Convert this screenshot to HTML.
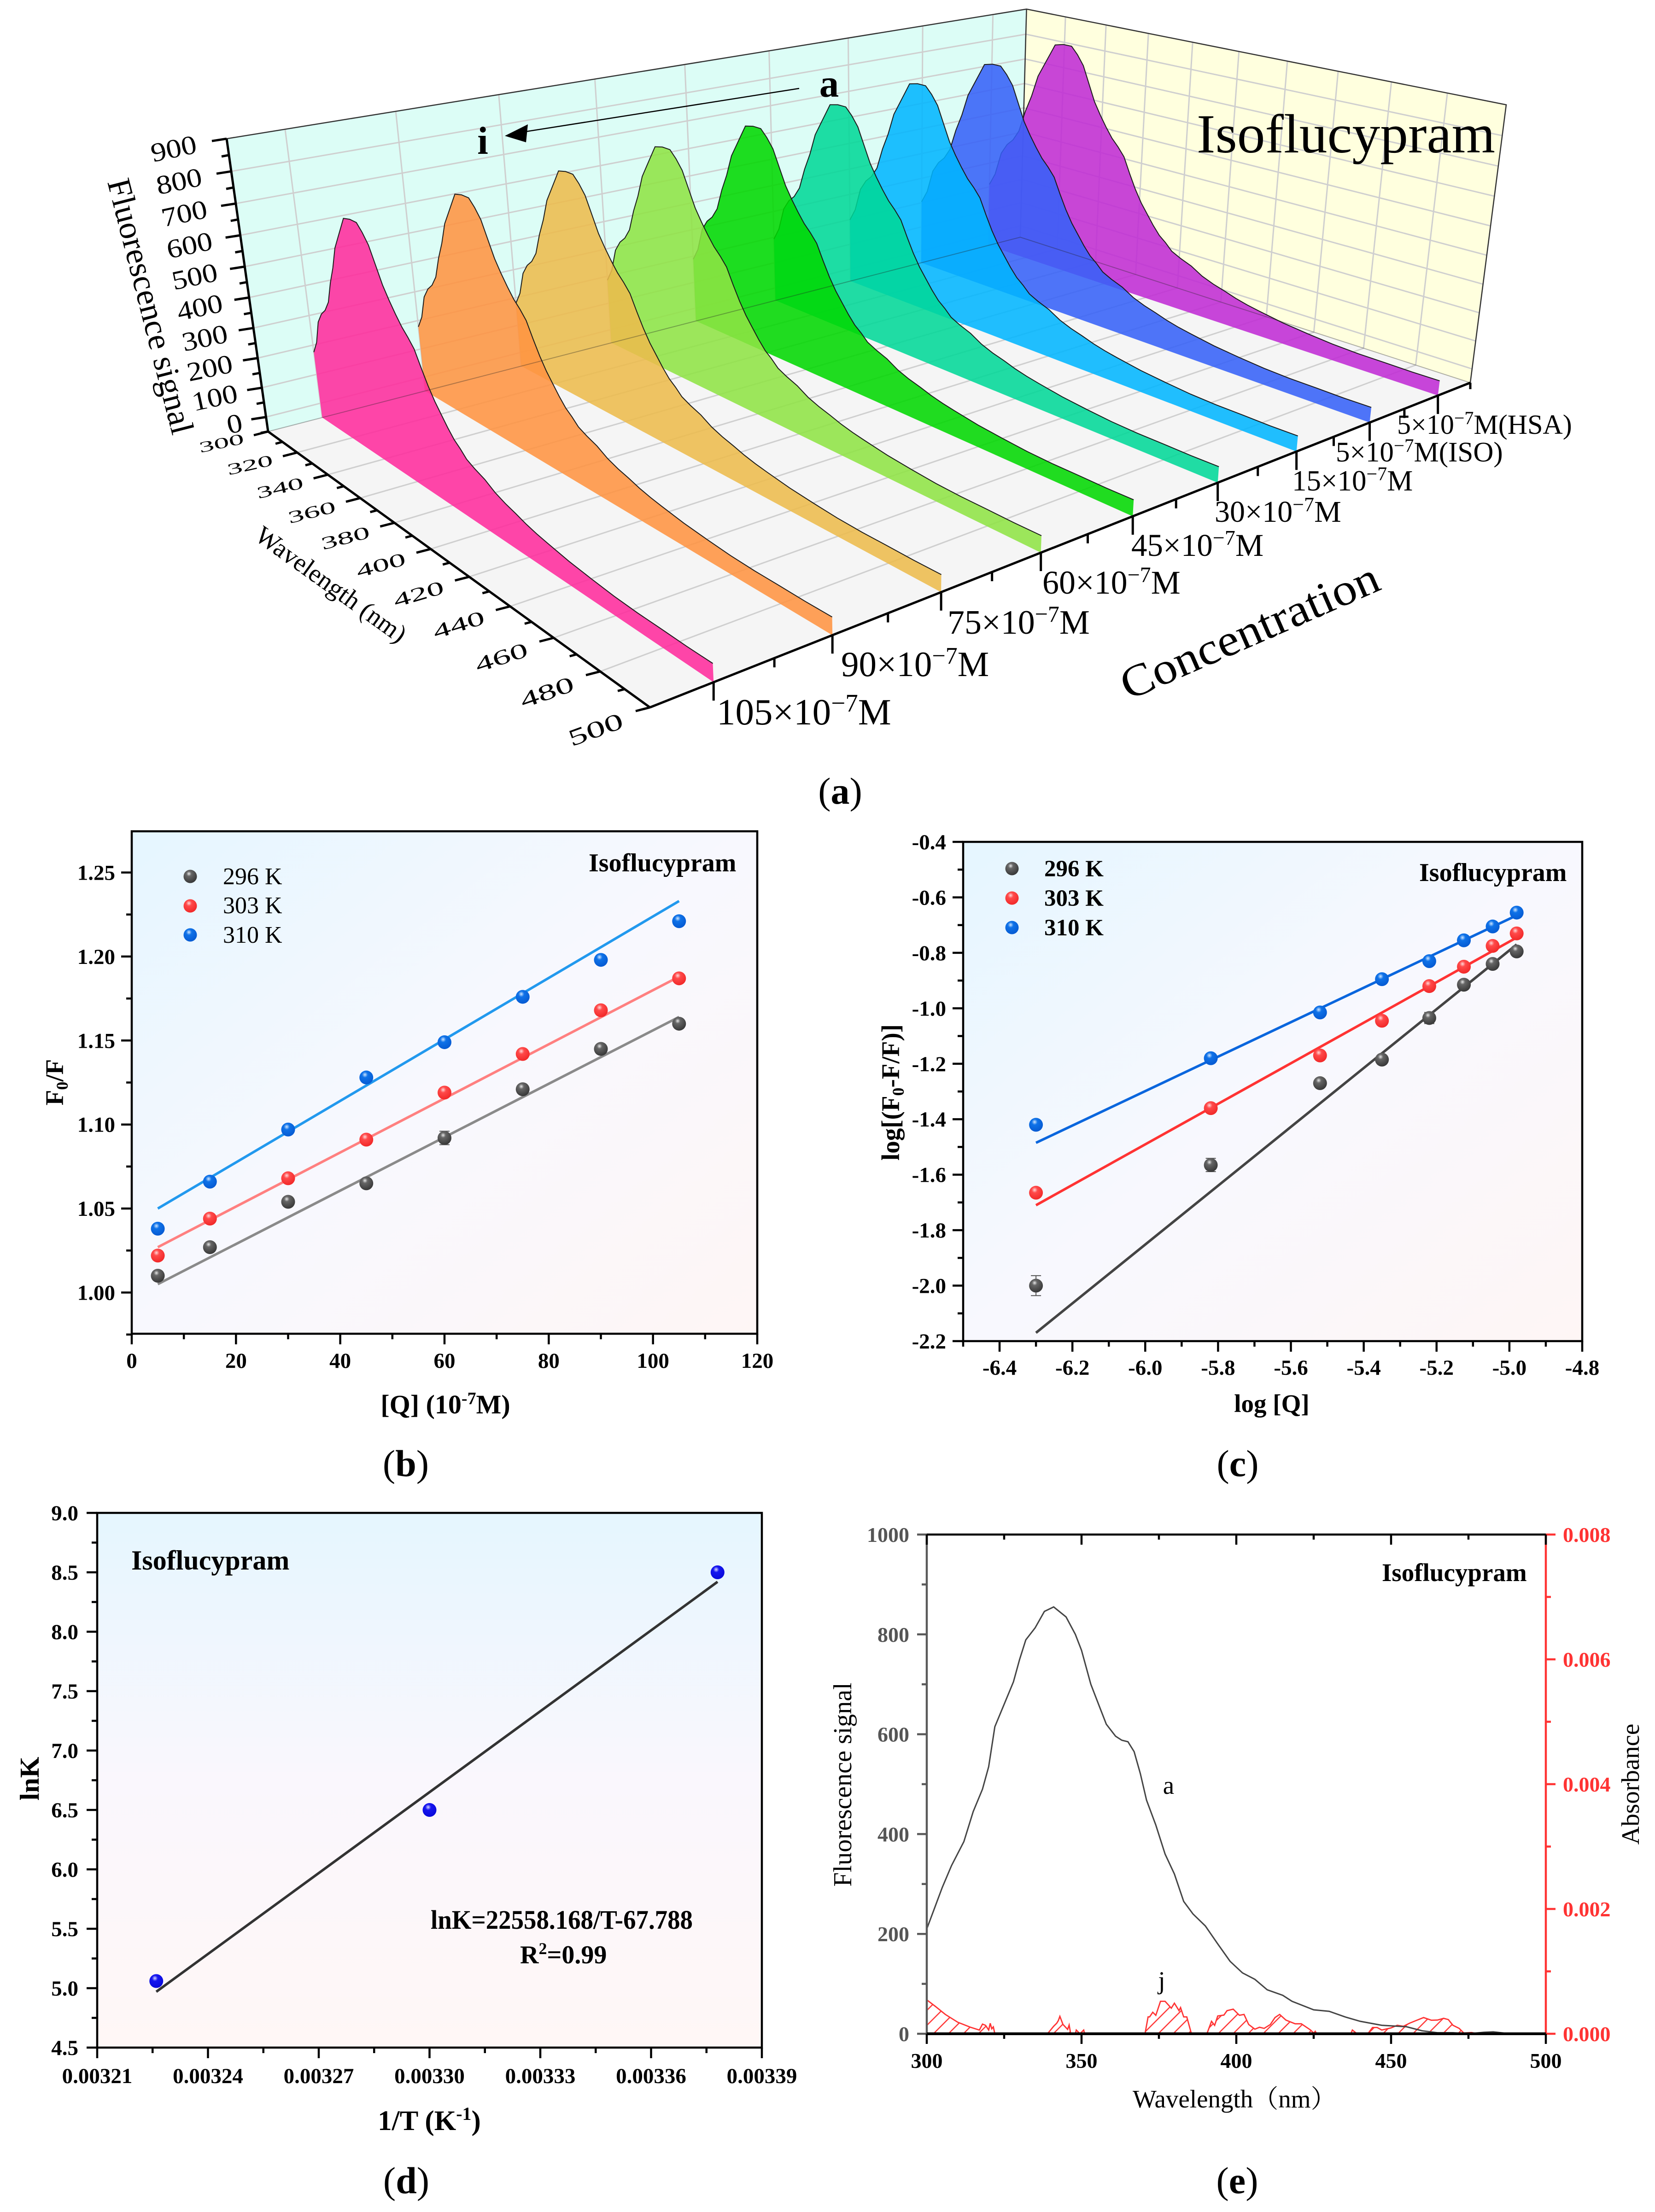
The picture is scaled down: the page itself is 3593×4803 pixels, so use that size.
<!DOCTYPE html>
<html lang="en">
<head>
<meta charset="utf-8">
<title>Isoflucypram fluorescence figure</title>
<style>
html,body{margin:0;padding:0;background:#fff;}
svg{display:block;}
text{font-family:"Liberation Serif","Noto Serif CJK SC",serif;fill:#000;}
.tick{font-weight:bold;font-size:47px;}
.axt{font-weight:bold;font-size:55px;}
.iso{font-weight:bold;font-size:56px;}
.cap{font-size:82px;}
</style>
</head>
<body>
<svg id="figure" xmlns="http://www.w3.org/2000/svg" width="3593" height="4803" viewBox="0 0 3593 4803">
<defs>
<linearGradient id="bgDiag" x1="0" y1="0" x2="1" y2="1">
<stop offset="0" stop-color="#e5f6ff"/><stop offset="0.5" stop-color="#f8f8fe"/><stop offset="1" stop-color="#fef6f5"/>
</linearGradient>
<linearGradient id="bgVert" x1="0" y1="0" x2="0" y2="1">
<stop offset="0" stop-color="#e5f6fe"/><stop offset="0.5" stop-color="#faf7fd"/><stop offset="1" stop-color="#fff7f6"/>
</linearGradient>
<radialGradient id="ballBlack" cx="0.4" cy="0.3" r="0.75"><stop offset="0" stop-color="#e8e8e8"/><stop offset="0.25" stop-color="#666"/><stop offset="1" stop-color="#333"/></radialGradient>
<radialGradient id="ballRed" cx="0.4" cy="0.3" r="0.75"><stop offset="0" stop-color="#ffd8d8"/><stop offset="0.28" stop-color="#ff4a4a"/><stop offset="1" stop-color="#f02525"/></radialGradient>
<radialGradient id="ballBlue" cx="0.4" cy="0.3" r="0.75"><stop offset="0" stop-color="#cfe6ff"/><stop offset="0.28" stop-color="#0f72e8"/><stop offset="1" stop-color="#0558d0"/></radialGradient>
<radialGradient id="ballNavy" cx="0.4" cy="0.3" r="0.75"><stop offset="0" stop-color="#d8d8ff"/><stop offset="0.28" stop-color="#1616f0"/><stop offset="1" stop-color="#0808d8"/></radialGradient>
<pattern id="hatch" width="23" height="23" patternUnits="userSpaceOnUse" patternTransform="rotate(-45)"><line x1="0" y1="1.5" x2="23" y2="1.5" stroke="#ff3333" stroke-width="2.4"/></pattern>
</defs>

<g id="panelA"></g>
<g id="panelALabels">
<text x="2598" y="331" font-size="120" textLength="648" lengthAdjust="spacingAndGlyphs">Isoflucypram</text>
<text x="1800" y="210" font-size="85" font-weight="bold" text-anchor="middle">a</text>
<text x="1048" y="334" font-size="85" font-weight="bold" text-anchor="middle">i</text>
<line x1="1735" y1="192" x2="1140" y2="286" stroke="#000" stroke-width="2.5"/>
<polygon points="1096,295 1146,270 1142,309" fill="#000"/>
<text transform="translate(327,665) rotate(75.6)" font-size="72" text-anchor="middle" dy="24">Fluorescence signal</text>
<text transform="translate(708,1284) rotate(35.8)" font-size="56" text-anchor="middle">Wavelength (nm)</text>
<text transform="translate(2726,1400) rotate(-23.7)" font-size="98" text-anchor="middle" textLength="603" lengthAdjust="spacingAndGlyphs">Concentration</text>
<text x="1556" y="1573" font-size="81">105×10<tspan dy="-28" font-size="55">−7</tspan><tspan dy="28">M</tspan></text>
<text x="1826" y="1468" font-size="77">90×10<tspan dy="-27" font-size="52">−7</tspan><tspan dy="27">M</tspan></text>
<text x="2057" y="1376" font-size="74">75×10<tspan dy="-26" font-size="50">−7</tspan><tspan dy="26">M</tspan></text>
<text x="2263" y="1289" font-size="72">60×10<tspan dy="-25" font-size="48">−7</tspan><tspan dy="25">M</tspan></text>
<text x="2456" y="1207" font-size="69">45×10<tspan dy="-24" font-size="46">−7</tspan><tspan dy="24">M</tspan></text>
<text x="2637" y="1133" font-size="66">30×10<tspan dy="-23" font-size="44">−7</tspan><tspan dy="23">M</tspan></text>
<text x="2805" y="1065" font-size="63">15×10<tspan dy="-22" font-size="42">−7</tspan><tspan dy="22">M</tspan></text>
<text x="2900" y="1002" font-size="61">5×10<tspan dy="-21" font-size="41">−7</tspan><tspan dy="21">M(ISO)</tspan></text>
<text x="3033" y="942" font-size="60">5×10<tspan dy="-21" font-size="40">−7</tspan><tspan dy="21">M(HSA)</tspan></text>
<text class="cap" x="1824" y="1745" text-anchor="middle">(<tspan font-weight="bold">a</tspan>)</text>
</g>

<g id="panelB"></g>
<g>
<text class="iso" x="1278" y="1892">Isoflucypram</text>
<text class="axt" x="967" y="3069" text-anchor="middle" style="font-size:58px">[Q] (10<tspan dy="-20" font-size="38">-7</tspan><tspan dy="20">M)</tspan></text>
<text class="axt" transform="translate(137,2350) rotate(-90)" text-anchor="middle">F<tspan dy="10" font-size="36">0</tspan><tspan dy="-10">/F</tspan></text>
<text x="484" y="1920" font-size="52">296 K</text>
<text x="484" y="1983" font-size="52">303 K</text>
<text x="484" y="2047" font-size="52">310 K</text>
<text class="cap" x="881" y="3205" text-anchor="middle">(<tspan font-weight="bold">b</tspan>)</text>
</g>

<g id="panelC"></g>
<g>
<text class="iso" x="3081" y="1913">Isoflucypram</text>
<text class="axt" x="2761" y="3066" text-anchor="middle">log [Q]</text>
<text class="axt" transform="translate(1952,2372) rotate(-90)" text-anchor="middle">log[(F<tspan dy="10" font-size="36">0</tspan><tspan dy="-10">-F/F)]</tspan></text>
<text x="2267" y="1903" font-size="51" font-weight="bold">296 K</text>
<text x="2267" y="1967" font-size="51" font-weight="bold">303 K</text>
<text x="2267" y="2031" font-size="51" font-weight="bold">310 K</text>
<text class="cap" x="2687" y="3205" text-anchor="middle">(<tspan font-weight="bold">c</tspan>)</text>
</g>

<g id="panelD"></g>
<g>
<text x="285" y="3408" font-size="60" font-weight="bold">Isoflucypram</text>
<text class="axt" x="932" y="4625" text-anchor="middle" style="font-size:61px">1/T (K<tspan dy="-22" font-size="40">-1</tspan><tspan dy="22">)</tspan></text>
<text class="axt" transform="translate(84,3862) rotate(-90)" text-anchor="middle" style="font-size:59px">lnK</text>
<text x="935" y="4188" font-size="58" font-weight="bold" textLength="569" lengthAdjust="spacingAndGlyphs">lnK=22558.168/T-67.788</text>
<text x="1129" y="4263" font-size="56" font-weight="bold">R<tspan dy="-20" font-size="36">2</tspan><tspan dy="20">=0.99</tspan></text>
<text class="cap" x="882" y="4762" text-anchor="middle">(<tspan font-weight="bold">d</tspan>)</text>
</g>

<g id="panelE"></g>
<g>
<text x="3000" y="3433" font-size="55" font-weight="bold">Isoflucypram</text>
<text transform="translate(1848,3875) rotate(-90)" font-size="56" text-anchor="middle">Fluorescence signal</text>
<text transform="translate(3558,3874) rotate(-90)" font-size="55" text-anchor="middle">Absorbance</text>
<text x="2459" y="4576" font-size="55">Wavelength（nm）</text>
<text x="2537" y="3895" font-size="55" text-anchor="middle">a</text>
<text x="2522" y="4319" font-size="55" text-anchor="middle">j</text>
<text class="cap" x="2686" y="4762" text-anchor="middle">(<tspan font-weight="bold">e</tspan>)</text>
</g>
</svg>

<script>
/* ---------- Panel A data ---------- */
const ribbonNames = ['105e-7', '90e-7', '75e-7', '60e-7', '45e-7', '30e-7', '15e-7', '5e-7-iso', '5e-7-hsa'];
const ribbonPeaks = [705, 713, 723, 742, 754, 773, 795, 816, 842];
const ribbonColors = ['#ff2a9c', '#ff9340', '#edbb4c', '#8ee444', '#00d800', '#00d898', '#00b6ff', '#3560f8', '#c02ad4'];
const ribbonWavelengths = [300,303,306,309,312,315,318,321,324,327,330,332,336,340,343,346,349,352,355,358,361,364,367,370,373,376,379,382,385,388,391,395,400,405,410,415,420,425,430,440,450,460,470,480,490,500];
const ribbonShape = [.25,.31,.42,.47,.50,.55,.65,.73,.83,.89,.95,.99,1.0,1.0,.968,.925,.85,.775,.721,.673,.63,.598,.56,.491,.427,.373,.33,.287,.25,.225,.195,.175,.155,.125,.105,.09,.073,.06,.05,.032,.02,.01,.005,.004,.002,.003];
const zTickLabels = ['0','100','200','300','400','500','600','700','800','900'];
const waveTickLabels = ['300','320','340','360','380','400','420','440','460','480','500'];

/* ---------- Panel B data ---------- */
const bX = [5, 15, 30, 45, 60, 75, 90, 105];
const bY296 = [1.010, 1.027, 1.054, 1.065, 1.092, 1.121, 1.145, 1.160];
const bY303 = [1.022, 1.044, 1.068, 1.091, 1.119, 1.142, 1.168, 1.187];
const bY310 = [1.038, 1.066, 1.097, 1.128, 1.149, 1.176, 1.198, 1.221];
const bFit296 = [1.005, 1.164];
const bFit303 = [1.027, 1.188];
const bFit310 = [1.050, 1.233];
const bFitX = [5, 105];
const bErr296 = [0.001, 0.001, 0.001, 0.001, 0.004, 0.001, 0.002, 0.001];
const bXLabels = ['0','20','40','60','80','100','120'];
const bXMinor = [10,30,50,70,90,110];
const bYLabels = ['1.00','1.05','1.10','1.15','1.20','1.25'];
const bYMinor = [0.975,1.025,1.075,1.125,1.175,1.225];

/* ---------- Panel C data ---------- */
const cX = [-6.30, -5.82, -5.52, -5.35, -5.22, -5.125, -5.046, -4.98];
const cY296 = [-2.00, -1.565, -1.27, -1.185, -1.035, -0.915, -0.84, -0.795];
const cY303 = [-1.665, -1.36, -1.17, -1.045, -0.92, -0.85, -0.775, -0.73];
const cY310 = [-1.42, -1.18, -1.015, -0.895, -0.83, -0.755, -0.705, -0.655];
const cFit296 = [-2.17, -0.77];
const cFit303 = [-1.71, -0.745];
const cFit310 = [-1.485, -0.665];
const cFitX = [-6.30, -4.98];
const cErr296 = [0.036, 0.024, 0.006, 0.006, 0.02, 0.006, 0.006, 0.006];
const cXLabels = ['-6.4','-6.2','-6.0','-5.8','-5.6','-5.4','-5.2','-5.0','-4.8'];
const cXMinor = [-6.5,-6.3,-6.1,-5.9,-5.7,-5.5,-5.3,-5.1,-4.9];
const cYLabels = ['-0.4','-0.6','-0.8','-1.0','-1.2','-1.4','-1.6','-1.8','-2.0','-2.2'];
const cYMinor = [-0.5,-0.7,-0.9,-1.1,-1.3,-1.5,-1.7,-1.9,-2.1];

/* ---------- Panel D data ---------- */
const dX = [0.003226, 0.00330, 0.003378];
const dY = [5.06, 6.5, 8.5];
const dFitX = [0.003226, 0.003378];
const dFitY = [4.97, 8.42];
const dXLabels = ['0.00321','0.00324','0.00327','0.00330','0.00333','0.00336','0.00339'];
const dXMinor = [0.003225,0.003255,0.003285,0.003315,0.003345,0.003375];
const dYLabels = ['4.5','5.0','5.5','6.0','6.5','7.0','7.5','8.0','8.5','9.0'];
const dYMinor = [4.75,5.25,5.75,6.25,6.75,7.25,7.75,8.25,8.75];

/* ---------- Panel E data ---------- */
const eFluorW = [300,305,308,312,315,318,320,322,325,328,330,332,335,338,341,345,348,350,353,356,358,361,363,365,367,369,371,374,377,380,383,386,390,394,398,402,406,410,415,418,425,430,435,440,447,455,460,465,470,475,480,483,487,495,500];
const eFluorI = [210,293,337,385,445,490,535,615,660,705,750,789,813,846,855,835,800,768,700,652,620,596,588,585,565,521,468,418,360,320,265,240,216,180,145,122,109,88,77,65,48,45,34,25,17,14,6,2,2,0,3,4,1,0,0];
const eAbsW = [300,303,306,310,314,317,318,319,320,320.5,321,321.5,322,339,341,342,342.5,343,344,345.5,346,346.5,348,348.3,349.5,350.7,351,370.5,371.5,372,373,374,375.5,377,379,380,381.5,382,383,384,385.5,390.5,392,393,394,396,397,399,401,402.5,404,406,407.5,409,411,412.5,414,416,419,421,424,425,425.5,426,437,437.5,439,442.5,444,445.5,447,450,452,454,456,458,460.5,463,465,467,468.5,470,472,473.5,476,478,500];
const eAbsV = [.543,.43,.31,.185,.106,.06,.155,.135,.06,.168,.08,.11,0,0,.12,.17,.21,.28,.15,.07,.14,0,0,.06,0,.06,0,0,.27,.27,.345,.296,.52,.52,.41,.49,.37,.42,.27,.27,0,0,.2,.135,.285,.30,.37,.395,.296,.31,.148,.074,.104,.086,.148,.26,.31,.22,.16,.16,.06,.01,.04,0,0,.06,0,0,.1,.1,.06,.094,.136,.12,.17,.21,.26,.217,.22,.247,.227,.136,.086,.012,.02,0,0];
const eXLabels = ['300','350','400','450','500'];
const eXMinor = [325,375,425,475];
const eLeftLabels = ['0','200','400','600','800','1000'];
const eLeftMinor = [100,300,500,700,900];
const eRightLabels = ['0.000','0.002','0.004','0.006','0.008'];
const eRightMinor = [0.001,0.003,0.005,0.007];

/* ---------- helpers ---------- */
const NS = 'http://www.w3.org/2000/svg';
function mk(parent, tag, attrs, text) {
  const e = document.createElementNS(NS, tag);
  for (const k in attrs) e.setAttribute(k, attrs[k]);
  if (text !== undefined) e.textContent = text;
  parent.appendChild(e);
  return e;
}
function linScale(d0, d1, p0, p1) { return v => p0 + (v - d0) * (p1 - p0) / (d1 - d0); }
function pathFrom(pts) { return pts.map((p, i) => (i ? 'L' : 'M') + p[0].toFixed(1) + ' ' + p[1].toFixed(1)).join(' '); }

/* ---------- Panel A: projective 3D ---------- */
(function () {
  const g = document.getElementById('panelA');
  const A = [582, 937], B = [2215, 515], C = [3192, 831], D = [1411, 1536];
  const Atop = [492, 295], Ctop = [3270, 223], Btop = [2227, 28];
  const sx = A[0] - B[0] + C[0] - D[0], sy = A[1] - B[1] + C[1] - D[1];
  const dx1 = B[0] - C[0], dx2 = D[0] - C[0], dy1 = B[1] - C[1], dy2 = D[1] - C[1];
  const den = dx1 * dy2 - dx2 * dy1;
  const hg = (sx * dy2 - dx2 * sy) / den, hh = (dx1 * sy - sx * dy1) / den;
  const ha = B[0] * (1 + hg) - A[0], hb = D[0] * (1 + hh) - A[0];
  const hd = B[1] * (1 + hg) - A[1], he = D[1] * (1 + hh) - A[1];
  const wC = 1 + hg + hh;
  const hr = ((Atop[0] - A[0]) - wC * (Ctop[0] - C[0])) / (Ctop[0] - Atop[0]);
  const hp = (Atop[0] - A[0]) + Atop[0] * hr;
  const wB = 1 + hg;
  const hq = ((Atop[1] - A[1]) + Atop[1] * hr + wB * (Btop[1] - B[1]) + Btop[1] * hr + wC * (Ctop[1] - C[1]) + Ctop[1] * hr) / 3;
  function P(u, v, h) {
    const w = hg * u + hh * v + 1 + hr * h;
    return [(ha * u + hb * v + A[0] + hp * h) / w, (hd * u + he * v + A[1] + hq * h) / w];
  }
  const zMin = -50, zMax = 900;
  const hOf = val => (val - zMin) / (zMax - zMin);
  const vOf = w => (w - 300) / 200;
  const uOf = i => (i + 0.5) / ribbonPeaks.length;

  const backWall = mk(g, 'polygon', { points: [P(0,0,0), P(1,0,0), P(1,0,1), P(0,0,1)].join(' '), fill: '#dcfdf6' });
  
  
  const sideWall = mk(g, 'polygon', { points: [P(1,0,0), P(1,1,0), P(1,1,1), P(1,0,1)].join(' '), fill: '#ffffde' });
  
  
  const floor = mk(g, 'polygon', { points: [P(0,0,0), P(1,0,0), P(1,1,0), P(0,1,0)].join(' '), fill: '#f5f5f5' });
  
  

  const grid = mk(g, 'g', { stroke: '#cfcfcf', 'stroke-width': 3, fill: 'none' });
  
  
  function seg(par, a, b) { return mk(par, 'line', { x1: a[0], y1: a[1], x2: b[0], y2: b[1] }); }
  for (let i = 0; i < ribbonPeaks.length; i++) seg(grid, P(uOf(i),0,0), P(uOf(i),0,1));
  zTickLabels.forEach(l => {
    const h = hOf(parseFloat(l));
    if (h < 1) { seg(grid, P(0,0,h), P(1,0,h)); seg(grid, P(1,0,h), P(1,1,h)); }
  });
  waveTickLabels.forEach(l => {
    const v = vOf(parseFloat(l));
    if (v > 0 && v < 1) { seg(grid, P(1,v,0), P(1,v,1)); seg(grid, P(0,v,0), P(1,v,0)); }
  });

  const outline = mk(g, 'path', { d: pathFrom([P(0,0,1), P(1,0,1), P(1,1,1), P(1,1,0)]) + ' ' + pathFrom([P(1,0,0), P(1,0,1)]), fill: 'none', stroke: '#333', 'stroke-width': 2.5 });
  
  

  for (let i = ribbonPeaks.length - 1; i >= 0; i--) {
    const u = uOf(i);
    const top = ribbonWavelengths.map((w, k) => P(u, vOf(w), hOf(ribbonShape[k] * ribbonPeaks[i])));
    const base = [P(u, 1, 0), P(u, 0, 0)];
    const area = mk(g, 'path', { d: pathFrom(top.concat(base)) + ' Z', fill: ribbonColors[i], 'fill-opacity': 0.87 });
    
    
    const edge = mk(g, 'path', { d: pathFrom(top), fill: 'none', stroke: '#1a1a1a', 'stroke-width': 2 });
    
    
  }
  const seam = mk(g, 'path', { d: pathFrom([P(0,0,0), P(1,0,0), P(1,1,0)]), fill: 'none', stroke: '#222', 'stroke-width': 2, 'stroke-opacity': 0.35 });
  
  

  const axes = mk(g, 'g', { stroke: '#000', 'stroke-width': 5, fill: 'none' });
  
  
  seg(axes, P(0,0,0), P(0,0,1));
  seg(axes, P(0,0,0), P(0,1,0));
  seg(axes, P(0,1,0), P(1,1,0));

  const bottomTick = P(0, 0, 0);
  seg(axes, bottomTick, [bottomTick[0] - 16, bottomTick[1] + 3]);
  zTickLabels.forEach((l, k) => {
    const val = parseFloat(l);
    const p = P(0, 0, hOf(val));
    seg(axes, p, [p[0] - 32, p[1] + 5]);
    if (k < zTickLabels.length - 1) {
      const q = P(0, 0, hOf(val + 50));
      seg(axes, q, [q[0] - 16, q[1] + 3]);
    }
    const t = mk(g, 'text', { transform: 'translate(' + (p[0] - 48 - 14 * val / zMax).toFixed(1) + ',' + (p[1] + 30).toFixed(1) + ') rotate(-12) scale(1.15,1)', 'font-size': 58, 'text-anchor': 'end' }, l);
    
    
  });
  waveTickLabels.forEach((l, k) => {
    const v = vOf(parseFloat(l));
    const p = P(0, v, 0);
    seg(axes, p, [p[0] - 31, p[1] + 8]);
    if (k < waveTickLabels.length - 1) {
      const q = P(0, vOf(parseFloat(l) + 10), 0);
      seg(axes, q, [q[0] - 15, q[1] + 4]);
    }
    const t01 = (p[0] - A[0]) / (D[0] - A[0]);
    const lx = p[0] - 99 - 13 * t01, ly = p[1] + 36 + 28 * t01;
    const fs = 44 + 16 * t01;
    const sxx = 1.5 - 0.13 * t01, syy = 0.75 + 0.1 * t01;
    const t = mk(g, 'text', { transform: 'translate(' + lx.toFixed(1) + ',' + ly.toFixed(1) + ') rotate(' + (-12 - 8 * t01).toFixed(1) + ') scale(' + sxx.toFixed(2) + ',' + syy.toFixed(2) + ')', 'font-size': fs.toFixed(1), 'text-anchor': 'middle' }, l);
    
    
  });
  for (let i = 0; i < ribbonPeaks.length; i++) {
    const p = P(uOf(i), 1, 0);
    seg(axes, p, [p[0], p[1] + 40]);
    const q = P(i / ribbonPeaks.length, 1, 0);
    if (i > 0) seg(axes, q, [q[0], q[1] + 20]);
  }
  const corner = P(1, 1, 0);
  seg(axes, corner, [corner[0], corner[1] + 14]);
})();

/* ---------- 2-D panels ---------- */
function drawFrame(g, box, fill, xs, ys, xLabels, xMinor, yLabels, yMinor, yRight, xBase) {
  const bg = mk(g, 'rect', { x: box.l, y: box.t, width: box.r - box.l, height: box.b - box.t, fill: fill });
  
  
  const ticks = mk(g, 'g', { stroke: '#000', 'stroke-width': 4.5 });
  
  
  xLabels.forEach(l => {
    const x = xs(parseFloat(l));
    mk(ticks, 'line', { x1: x, y1: box.b, x2: x, y2: box.b + 23 });
    const t = mk(g, 'text', { x: x, y: xBase, 'text-anchor': 'middle', class: 'tick' }, l);
    
    
  });
  xMinor.forEach(v => { const x = xs(v); mk(ticks, 'line', { x1: x, y1: box.b, x2: x, y2: box.b + 12 }); });
  yLabels.forEach(l => {
    const y = ys(parseFloat(l));
    mk(ticks, 'line', { x1: box.l, y1: y, x2: box.l - 23, y2: y });
    const t = mk(g, 'text', { x: yRight, y: y + 16, 'text-anchor': 'end', class: 'tick' }, l);
    
    
  });
  yMinor.forEach(v => { const y = ys(v); mk(ticks, 'line', { x1: box.l, y1: y, x2: box.l - 12, y2: y }); });
  const frame = mk(g, 'rect', { x: box.l, y: box.t, width: box.r - box.l, height: box.b - box.t, fill: 'none', stroke: '#000', 'stroke-width': 4.5 });
  
  
}
function drawSeries(g, xs, ys, X, Y, err, fitX, fitY, lineColor, ball, r, seriesName) {
  const fit = mk(g, 'line', { x1: xs(fitX[0]), y1: ys(fitY[0]), x2: xs(fitX[1]), y2: ys(fitY[1]), stroke: lineColor, 'stroke-width': 5.5 });
  
  
  X.forEach((v, i) => {
    if (err && err[i] > 0) {
      const e1 = ys(Y[i] - err[i]), e2 = ys(Y[i] + err[i]), cx = xs(v);
      const eb = mk(g, 'path', { d: 'M' + (cx - 11) + ' ' + e1 + 'H' + (cx + 11) + 'M' + cx + ' ' + e1 + 'V' + e2 + 'M' + (cx - 11) + ' ' + e2 + 'H' + (cx + 11), stroke: '#555', 'stroke-width': 2, fill: 'none' });
      
      
    }
    const c = mk(g, 'circle', { cx: xs(v), cy: ys(Y[i]), r: r, fill: 'url(#' + ball + ')' });
    
    
  });
}
function drawLegendBall(g, x, y, ball, seriesName) {
  const c = mk(g, 'circle', { cx: x, cy: y, r: 14.5, fill: 'url(#' + ball + ')' });
  
  
}

/* Panel B */
(function () {
  const g = document.getElementById('panelB');
  const box = { l: 286, r: 1644, t: 1805, b: 2896 };
  const xs = linScale(0, 120, box.l, box.r);
  const ys = linScale(1.00, 1.25, 2806.5, 1894.5);
  drawFrame(g, box, 'url(#bgDiag)', xs, ys, bXLabels, bXMinor, bYLabels, bYMinor, 250, 2970);
  drawSeries(g, xs, ys, bX, bY296, bErr296, bFitX, bFit296, '#8a8a8a', 'ballBlack', 15, '296k');
  drawSeries(g, xs, ys, bX, bY303, null, bFitX, bFit303, '#ff8080', 'ballRed', 15, '303k');
  drawSeries(g, xs, ys, bX, bY310, null, bFitX, bFit310, '#2299ee', 'ballBlue', 15, '310k');
  drawLegendBall(g, 413, 1903, 'ballBlack', '296k');
  drawLegendBall(g, 413, 1967, 'ballRed', '303k');
  drawLegendBall(g, 413, 2030, 'ballBlue', '310k');
})();

/* Panel C */
(function () {
  const g = document.getElementById('panelC');
  const box = { l: 2091, r: 3435, t: 1828, b: 2912 };
  const xs = linScale(-6.5, -4.8, box.l, box.r);
  const ys = linScale(-2.2, -0.4, box.b, box.t);
  drawFrame(g, box, 'url(#bgDiag)', xs, ys, cXLabels, cXMinor, cYLabels, cYMinor, 2054, 2985);
  drawSeries(g, xs, ys, cX, cY296, cErr296, cFitX, cFit296, '#444', 'ballBlack', 15, '296k');
  drawSeries(g, xs, ys, cX, cY303, null, cFitX, cFit303, '#ff3333', 'ballRed', 15, '303k');
  drawSeries(g, xs, ys, cX, cY310, null, cFitX, cFit310, '#0a66dd', 'ballBlue', 15, '310k');
  drawLegendBall(g, 2197, 1886, 'ballBlack', '296k');
  drawLegendBall(g, 2197, 1950, 'ballRed', '303k');
  drawLegendBall(g, 2197, 2014, 'ballBlue', '310k');
})();

/* Panel D */
(function () {
  const g = document.getElementById('panelD');
  const box = { l: 211, r: 1654, t: 3285, b: 4446 };
  const xs = linScale(0.00321, 0.00339, box.l, box.r);
  const ys = linScale(4.5, 9.0, box.b, box.t);
  drawFrame(g, box, 'url(#bgVert)', xs, ys, dXLabels, dXMinor, dYLabels, dYMinor, 170, 4523);
  drawSeries(g, xs, ys, dX, dY, null, dFitX, dFitY, '#333', 'ballNavy', 15, 'lnk');
})();

/* Panel E */
(function () {
  const g = document.getElementById('panelE');
  const box = { l: 2012, r: 3356, t: 3332, b: 4416 };
  const xs = linScale(300, 500, box.l, box.r);
  const yL = linScale(0, 1000, box.b, box.t);
  const yR = linScale(0, 0.008, box.b, box.t);
  const absPts = eAbsW.map((w, i) => [xs(w), yR(eAbsV[i] * 0.001)]);
  const hatch = mk(g, 'path', { d: pathFrom(absPts.concat([[xs(500), box.b], [xs(300), box.b]])) + ' Z', fill: 'url(#hatch)' });
  
  
  const absLine = mk(g, 'path', { d: pathFrom(absPts), fill: 'none', stroke: '#ff3333', 'stroke-width': 2.8 });
  
  
  const flPts = eFluorW.map((w, i) => [xs(w), yL(eFluorI[i])]);
  const flLine = mk(g, 'path', { d: pathFrom(flPts), fill: 'none', stroke: '#444', 'stroke-width': 3 });
  
  

  const leftAxis = mk(g, 'g', { stroke: '#5a5a5a', 'stroke-width': 4.5 });
  
  
  mk(leftAxis, 'line', { x1: box.l, y1: box.t, x2: box.l, y2: box.b });
  eLeftLabels.forEach(l => {
    const y = yL(parseFloat(l));
    mk(leftAxis, 'line', { x1: box.l, y1: y, x2: box.l - 21, y2: y });
    const t = mk(g, 'text', { x: 1974, y: y + 16, 'text-anchor': 'end', class: 'tick', style: 'fill:#555;font-size:46px' }, l);
    
    
  });
  eLeftMinor.forEach(v => { const y = yL(v); mk(leftAxis, 'line', { x1: box.l, y1: y, x2: box.l - 11, y2: y }); });

  const rightAxis = mk(g, 'g', { stroke: '#ff3333', 'stroke-width': 4.5 });
  
  
  mk(rightAxis, 'line', { x1: box.r, y1: box.t, x2: box.r, y2: box.b });
  eRightLabels.forEach(l => {
    const y = yR(parseFloat(l));
    mk(rightAxis, 'line', { x1: box.r, y1: y, x2: box.r + 21, y2: y });
    const t = mk(g, 'text', { x: 3393, y: y + 16, class: 'tick', style: 'fill:#ff3333;font-size:46px' }, l);
    
    
  });
  eRightMinor.forEach(v => { const y = yR(v); mk(rightAxis, 'line', { x1: box.r, y1: y, x2: box.r + 11, y2: y }); });

  const xAxis = mk(g, 'g', { stroke: '#000', 'stroke-width': 4.5 });
  
  
  mk(xAxis, 'line', { x1: box.l, y1: box.t, x2: box.r, y2: box.t });
  mk(xAxis, 'line', { x1: box.l, y1: box.b, x2: box.r, y2: box.b, 'stroke-width': 6 });
  eXLabels.forEach(l => {
    const x = xs(parseFloat(l));
    mk(xAxis, 'line', { x1: x, y1: box.b, x2: x, y2: box.b + 22 });
    mk(xAxis, 'line', { x1: x, y1: box.t, x2: x, y2: box.t + 22 });
    const t = mk(g, 'text', { x: x, y: 4490, 'text-anchor': 'middle', class: 'tick', style: 'font-size:46px' }, l);
    
    
  });
  eXMinor.forEach(v => {
    const x = xs(v);
    mk(xAxis, 'line', { x1: x, y1: box.b, x2: x, y2: box.b + 11 });
    mk(xAxis, 'line', { x1: x, y1: box.t, x2: x, y2: box.t + 11 });
  });
})();
</script>
</body>
</html>
